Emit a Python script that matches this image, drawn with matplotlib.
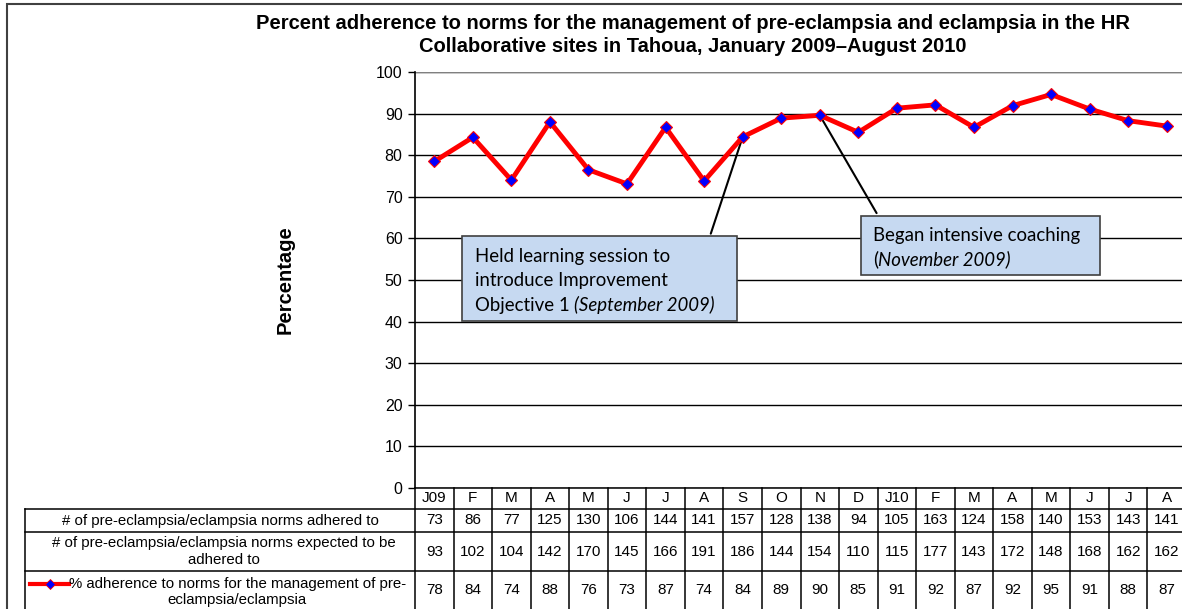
import numpy as np
import matplotlib.pyplot as plt
import matplotlib.transforms as mtransforms
from matplotlib.patches import Rectangle

# データ
months = ['J09', 'F', 'M', 'A', 'M', 'J', 'J', 'A', 'S', 'O', 'N', 'D',
          'J10', 'F', 'M', 'A', 'M', 'J', 'J', 'A']
adhered = [73, 86, 77, 125, 130, 106, 144, 141, 157, 128, 138, 94,
           105, 163, 124, 158, 140, 153, 143, 141]
expected = [93, 102, 104, 142, 170, 145, 166, 191, 186, 144, 154, 110,
            115, 177, 143, 172, 148, 168, 162, 162]
pct = [78.5, 84.3, 74.0, 88.0, 76.5, 73.1, 86.7, 73.8, 84.4, 88.9,
       89.6, 85.5, 91.3, 92.1, 86.7, 91.9, 94.6, 91.1, 88.3, 87.0]
pct_labels = [78, 84, 74, 88, 76, 73, 87, 74, 84, 89, 90, 85, 91, 92, 87, 92, 95, 91, 88, 87]
row_labels = ['# of pre-eclampsia/eclampsia norms adhered to',
              '# of pre-eclampsia/eclampsia norms expected to be\nadhered to',
              '% adherence to norms for the management of pre-\neclampsia/eclampsia']

title = ('Percent adherence to norms for the management of pre-eclampsia and eclampsia in the HR\n'
         'Collaborative sites in Tahoua, January 2009\u2013August 2010')

plt.rcParams['font.family'] = ['Liberation Sans', 'DejaVu Sans']

W, H = 1182, 609
fig = plt.figure(figsize=(W / 100, H / 100), dpi=100)

# 外枠
fig.patches.append(Rectangle((7 / W, -0.1), 1.2, 1 - 4 / H + 0.1, transform=fig.transFigure,
                             fill=False, edgecolor='#404040', lw=1.5))

# 軸の位置 (px -> fig fraction)
x0_px, x1_px = 415, 1186
y_top, y_bot = 72, 488
ax = fig.add_axes([x0_px / W, 1 - y_bot / H, (x1_px - x0_px) / W, (y_bot - y_top) / H])

x = np.arange(len(months))
ax.plot(x, pct, color='red', lw=3.5, marker='D', ms=6, mfc='blue', mec='red', mew=0.8,
        zorder=5, clip_on=False)

ax.set_xlim(-0.5, len(months) - 0.5)
ax.set_ylim(0, 100)
ax.set_yticks(np.arange(0, 101, 10))
ax.tick_params(axis='y', length=5, width=1, labelsize=11.5, pad=4, direction='out')
ax.set_xticks([])
ax.grid(axis='y', color='black', lw=1)
for s in ['top', 'right', 'bottom']:
    ax.spines[s].set_visible(False)
ax.spines['left'].set_linewidth(1.2)
ax.axhline(100, color='#808080', lw=1.5)

fig.text(285 / W, 1 - 280 / H, 'Percentage', rotation=90, fontsize=14.5, fontweight='bold',
         ha='center', va='center')
fig.text(693 / W, 1 - 35 / H, title, fontsize=14.5, fontweight='bold', ha='center', va='center',
         linespacing=1.3)

# 注釈ボックス
box_kw = dict(facecolor='#c6d9f1', edgecolor='#404040', lw=1.2, zorder=6)
ax.add_patch(Rectangle((0.72, 40.2), 7.13, 20.3, **box_kw))
ax.add_patch(Rectangle((11.07, 51.3), 6.19, 14.2, **box_kw))
ax.annotate('', xy=(8, pct[8]), xytext=(7.15, 60.5),
            arrowprops=dict(arrowstyle='-', color='black', lw=1.5), zorder=4)
ax.annotate('', xy=(10, pct[10]), xytext=(11.51, 65.5),
            arrowprops=dict(arrowstyle='-', color='black', lw=1.5), zorder=4)

bf = ['Lato', 'DejaVu Sans']
bfs = 13.4
tk = dict(fontsize=bfs, family=bf, zorder=7, va='baseline')
ax.text(1.05, 54.4, 'Held learning session to', **tk)
ax.text(1.05, 48.5, 'introduce Improvement', **tk)
t1 = ax.text(1.05, 42.6, 'Objective 1 ', **tk)
ax.annotate('(September 2009)', xy=(1, 0), xycoords=t1, fontsize=bfs, family=bf,
            style='italic', va='bottom', ha='left', zorder=7)
ax.text(11.38, 59.4, 'Began intensive coaching', **tk)
t2 = ax.text(11.38, 53.5, '(', **tk)
ax.annotate('November 2009)', xy=(1, 0), xycoords=t2, fontsize=bfs, family=bf,
            style='italic', va='bottom', ha='left', zorder=7)

# 表 (x: データ座標, y: 軸座標)
tr = mtransforms.blended_transform_factory(ax.transData, ax.transAxes)
px = 1 / (y_bot - y_top)
rows_y = [0, -(509 - y_bot) * px, -(532 - y_bot) * px, -(571 - y_bot) * px, -(615 - y_bot) * px]
hdr_left = -0.5 - (x0_px - 25) / ((x1_px - x0_px) / len(months))
lk = dict(transform=tr, clip_on=False, color='black', lw=1.1)

# 横線
ax.plot([-0.5, len(months) - 0.5], [rows_y[0]] * 2, **lk)
for yy in rows_y[1:4]:
    ax.plot([hdr_left, len(months) - 0.5], [yy] * 2, **lk)
# 縦線
for i in range(len(months) + 1):
    ax.plot([i - 0.5] * 2, [rows_y[0], rows_y[-1]], **lk)
ax.plot([hdr_left] * 2, [rows_y[1], rows_y[-1]], **lk)

tfs = 11
for i, m in enumerate(months):
    ax.text(i, (rows_y[0] + rows_y[1]) / 2, m, transform=tr, ha='center', va='center', fontsize=tfs)
    ax.text(i, (rows_y[1] + rows_y[2]) / 2, str(adhered[i]), transform=tr, ha='center', va='center', fontsize=tfs)
    ax.text(i, (rows_y[2] + rows_y[3]) / 2, str(expected[i]), transform=tr, ha='center', va='center', fontsize=tfs)
    ax.text(i, (rows_y[3] + rows_y[4]) / 2 + 0.008, str(pct_labels[i]), transform=tr, ha='center', va='center', fontsize=tfs)

hc = (hdr_left - 0.5) / 2
hfs = 10.8
ax.text(hc, (rows_y[1] + rows_y[2]) / 2, row_labels[0], transform=tr, ha='center', va='center', fontsize=hfs)
ax.text(hc + 0.1, (rows_y[2] + rows_y[3]) / 2, row_labels[1], transform=tr, ha='center', va='center',
        fontsize=hfs, multialignment='center', linespacing=1.3)
ax.text(hc + 0.45, rows_y[3] - 21 * px, row_labels[2], transform=tr, ha='center', va='center',
        fontsize=hfs, multialignment='center', linespacing=1.25)
# 凡例キー
ky = rows_y[3] - 13 * px
ax.plot([hdr_left + 0.14, hdr_left + 1.15], [ky, ky], transform=tr, clip_on=False, color='red', lw=3)
ax.plot([hdr_left + 0.645], [ky], transform=tr, clip_on=False, marker='D', ms=5, mfc='blue', mec='red', mew=0.6)

fig.savefig('out.png', dpi=100)
